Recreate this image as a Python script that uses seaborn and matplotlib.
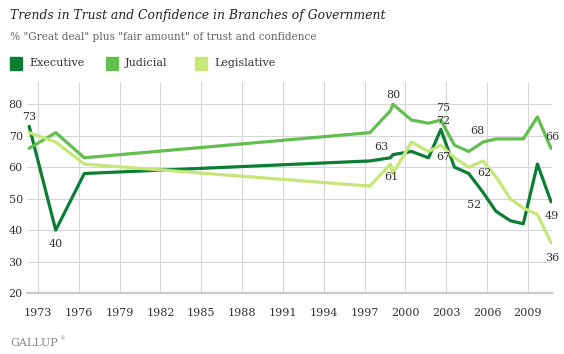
import matplotlib
matplotlib.use("Agg")
import matplotlib.pyplot as plt
import seaborn as sns
import pandas as pd

# ---- data ----
years = [1972.35, 1974.3, 1976.4, 1997.39, 1998.9, 1999.08, 2000.45, 2001.7,
         2002.6, 2003.6, 2004.65, 2005.7, 2006.65, 2007.7, 2008.66, 2009.7, 2010.7]
executive = [73, 40, 58, 62, 63, 64, 65, 63, 72, 60, 58, 52, 46, 43, 42, 61, 49]
judicial = [66, 71, 63, 71, 78, 80, 75, 74, 75, 67, 65, 68, 69, 69, 69, 76, 66]
legislative = [71, 68, 61, 54, 61, 58, 68, 65, 67, 63, 60, 62, 57, 50, 47, 45, 36]
series_names = ["Executive", "Judicial", "Legislative"]
colors = ["#0b7d35", "#62bf4f", "#c6e678"]
tick_years = [1973, 1976, 1979, 1982, 1985, 1988, 1991, 1994, 1997, 2000, 2003, 2006, 2009]
y_ticks = [20, 30, 40, 50, 60, 70, 80]

# labels: (series, index)
labelled = [("Executive", 0), ("Executive", 1), ("Judicial", 5), ("Executive", 4),
            ("Legislative", 4), ("Judicial", 8), ("Executive", 8), ("Legislative", 8),
            ("Judicial", 11), ("Legislative", 11), ("Executive", 11),
            ("Judicial", 16), ("Executive", 16), ("Legislative", 16)]
label_offsets = {("Executive", 0): (0, 9), ("Executive", 1): (0, -14),
                 ("Judicial", 5): (0, 9), ("Executive", 4): (-9, 11),
                 ("Legislative", 4): (1, -13), ("Judicial", 8): (2, 12),
                 ("Executive", 8): (2, 8), ("Legislative", 8): (2, -12),
                 ("Judicial", 11): (-6, 11), ("Legislative", 11): (1, -12),
                 ("Executive", 11): (-9, -13), ("Judicial", 16): (1, 11),
                 ("Executive", 16): (1, -14), ("Legislative", 16): (1, -15)}

vals = {"Executive": executive, "Judicial": judicial, "Legislative": legislative}
df = pd.DataFrame({
    "year": years * 3,
    "value": executive + judicial + legislative,
    "branch": [n for n in series_names for _ in years],
})

sns.set_theme(style="white")
plt.rcParams["font.family"] = ["DejaVu Serif"]

fig = plt.figure(figsize=(5.64, 3.54), dpi=100)
ax = fig.add_axes([27 / 564, 61 / 354, 525 / 564, 211 / 354])

sns.lineplot(data=df, x="year", y="value", hue="branch", hue_order=series_names,
             palette=colors, linewidth=2.3, legend=False, ax=ax, sort=False)

ax.set_xlim(1972.19, 2010.77)
ax.set_ylim(20, 87.1)
ax.set_xticks(tick_years)
ax.set_xticklabels([str(t) for t in tick_years], fontsize=8, color="#333333")
ax.set_yticks(y_ticks)
ax.set_yticklabels([str(t) for t in y_ticks], fontsize=8, color="#333333")
ax.grid(True, color="#d6d6d6", linewidth=0.8)
ax.set_axisbelow(True)
for s in ["top", "right", "left"]:
    ax.spines[s].set_visible(False)
ax.spines["bottom"].set_color("#cccccc")
ax.spines["bottom"].set_linewidth(1.6)
ax.tick_params(axis="x", length=0, pad=11)
ax.tick_params(axis="y", length=0, pad=3)
ax.set_xlabel("")
ax.set_ylabel("")

for name, i in labelled:
    dx, dy = label_offsets[(name, i)]
    ax.annotate(str(vals[name][i]), (years[i], vals[name][i]),
                xytext=(dx, dy), textcoords="offset pixels",
                ha="center", va="center", fontsize=8, color="#333333")

# titles
fig.text(10 / 564, 1 - 16 / 354, "Trends in Trust and Confidence in Branches of Government",
         fontsize=8.9, style="italic", color="#222222", va="center", ha="left")
fig.text(10 / 564, 1 - 37 / 354, '% "Great deal" plus "fair amount" of trust and confidence',
         fontsize=7.6, color="#666666", va="center", ha="left")

# legend
leg_x = [10, 106, 195]
for (lx, name, col) in zip(leg_x, series_names, colors):
    fig.patches.append(plt.Rectangle((lx / 564, 1 - 70 / 354), 12 / 564, 13 / 354,
                                     transform=fig.transFigure, color=col))
    fig.text((lx + 19) / 564, 1 - 63.5 / 354, name, fontsize=8, color="#333333",
             va="center", ha="left")

fig.text(10 / 564, 1 - 343 / 354, "GALLUP", fontsize=8, color="#888888",
         va="center", ha="left")
fig.text(59 / 564, 1 - 339 / 354, "®", fontsize=4, color="#888888",
         va="center", ha="left")

fig.savefig("out.png", dpi=100)
